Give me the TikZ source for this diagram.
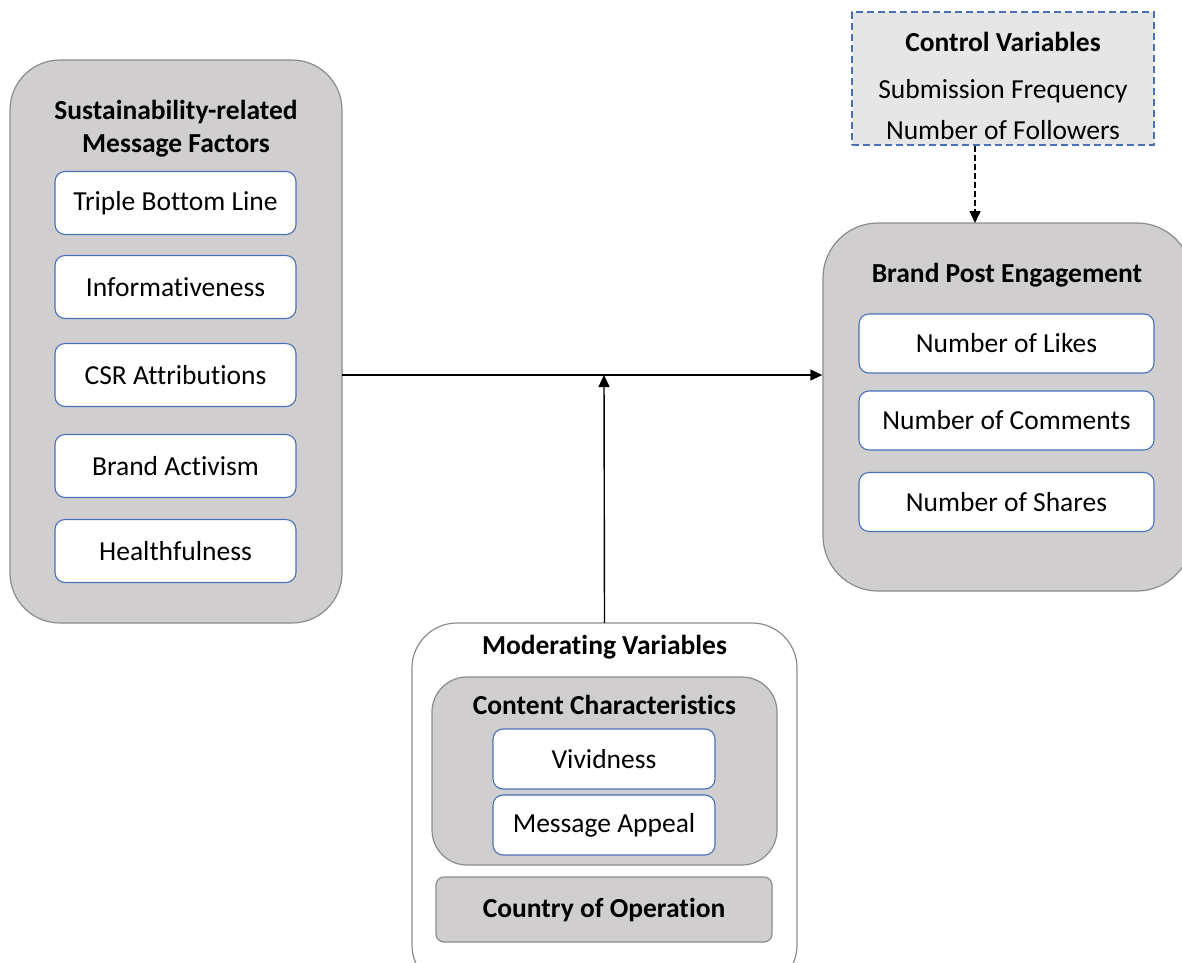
\documentclass[tikz,border=0pt]{standalone}
\usepackage{fontspec}
\setmainfont{Carlito}[Ligatures=NoCommon]
\usetikzlibrary{arrows.meta}
\definecolor{boxgray}{HTML}{D0CECE}
\definecolor{lightgray}{HTML}{E7E6E6}
\definecolor{edgegray}{HTML}{8C8C8C}
\definecolor{itemblue}{HTML}{4A70B8}
\newcommand{\bodyfont}{\fontsize{27.5}{33}\selectfont}
\tikzset{
  item/.style={draw=itemblue, line width=1.1pt, fill=white, rounded corners=10pt,
    font=\bodyfont, inner sep=0pt},
  title/.style={font=\bodyfont\bfseries, align=center, inner sep=0pt},
  plain/.style={font=\bodyfont, inner sep=0pt},
  link/.style={line width=1.4pt, -{Triangle[length=12pt,width=11pt]}},
}
\begin{document}
\begin{tikzpicture}[x=1pt,y=-1pt]
\useasboundingbox (0,0) rectangle (1182,962);
\clip (0,0) rectangle (1182,962);

% left group: message factors
\draw[draw=edgegray, line width=1.2pt, fill=boxgray, rounded corners=50pt] (10,60) rectangle (342,623);
\node (L) at (176,341) [minimum width=332pt, minimum height=563pt, inner sep=0pt] {};
\node[title] (Ltitle) at (176,129) {Sustainability-related\\Message Factors};
\foreach \n/\y/\t in {tbl/203/Triple Bottom Line, inf/287/Informativeness, csr/375/CSR Attributions, act/466/Brand Activism, hea/551/Healthfulness}
  \node[item, minimum width=241pt, minimum height=63pt] (\n) at (175.5,\y) {\t};

% right group: engagement
\draw[draw=edgegray, line width=1.2pt, fill=boxgray, rounded corners=55pt] (823,223) rectangle (1192,591);
\node (R) at (1002,407) [minimum width=359pt, minimum height=368pt, inner sep=0pt] {};
\node[title] (Rtitle) at (1007,275) {Brand Post Engagement};
\foreach \n/\y/\t in {lik/343.5/Number of Likes, com/420.5/Number of Comments, sha/502/Number of Shares}
  \node[item, minimum width=295pt, minimum height=59pt] (\n) at (1006.5,\y) {\t};

% control variables
\node[draw=itemblue, dash pattern=on 7pt off 4pt, line width=1.1pt, fill=lightgray, minimum width=302pt, minimum height=133pt, inner sep=0pt] (C) at (1003,78.5) {};
\node[title] (Ctitle) at (1003,42) {Control Variables};
\node[plain] (c1) at (1003,91) {Submission Frequency};
\node[plain] (c2) at (1003,130) {Number of Followers};

% moderating variables
\draw[draw=edgegray, line width=1.2pt, fill=white, rounded corners=45pt] (412,623) rectangle (797,990);
\node (M) at (604.5,623) [inner sep=0pt, minimum size=0pt] {};
\node[title] (Mtitle) at (604.5,647) {Moderating Variables};
\draw[draw=edgegray, line width=1.2pt, fill=boxgray, rounded corners=35pt] (432,677) rectangle (777,865);
\node[title] (CCtitle) at (604.5,705) {Content Characteristics};
\node[item, minimum width=222pt, minimum height=60pt] (viv) at (604,759) {Vividness};
\node[item, minimum width=222pt, minimum height=60pt] (app) at (604,825) {Message Appeal};
\node[draw=edgegray, line width=1.2pt, fill=boxgray, rounded corners=8pt, minimum width=336pt, minimum height=65pt, inner sep=0pt,
  font=\bodyfont\bfseries] (cop) at (604,909.5) {Country of Operation};

% connectors
\coordinate (J) at (604,375);
\draw[link] (L.east |- J) -- (R.west |- J);
\draw[link] (M) -- (J);
\draw[link, dash pattern=on 6pt off 3pt] (C.south -| 975,0) -- (975,223);
\end{tikzpicture}
\end{document}
